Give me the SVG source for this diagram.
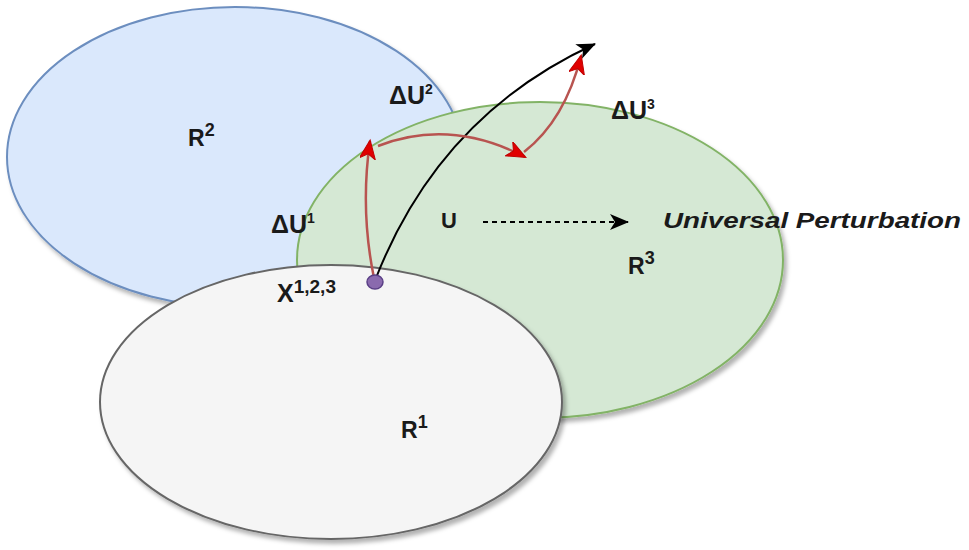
<svg xmlns="http://www.w3.org/2000/svg" width="969" height="550" viewBox="0 0 969 550">
<style>
  .lbl { font-family: "Liberation Sans", Arial, sans-serif; font-weight: bold; fill: #1a1a1a; }
  .red { fill: none; stroke: #b85450; stroke-width: 2.5; }
</style>
<defs>
  <filter id="sh" x="-10%" y="-10%" width="130%" height="130%">
    <feDropShadow dx="3" dy="4" stdDeviation="2" flood-color="#000" flood-opacity="0.3"/>
  </filter>
  <marker id="ar" markerUnits="userSpaceOnUse" markerWidth="24" markerHeight="20" refX="18" refY="8" orient="auto">
    <path d="M0,0 L19,8 L0,16 L5,8 z" fill="#e00000" stroke="#c00000" stroke-width="1"/>
  </marker>
  <marker id="ab" markerUnits="userSpaceOnUse" markerWidth="24" markerHeight="20" refX="18" refY="8" orient="auto">
    <path d="M0,0 L19,8 L0,16 L5,8 z" fill="#000"/>
  </marker>
</defs>
<rect width="969" height="550" fill="#fff"/>
<g id="R2">
  <ellipse cx="235" cy="157" rx="228" ry="150" fill="#dae8fc" stroke="#6c8ebf" stroke-width="2" filter="url(#sh)"/>
  <text class="lbl" x="188" y="146" font-size="23">R<tspan font-size="18" dy="-10">2</tspan></text>
</g>
<g id="R3">
  <ellipse cx="540" cy="260" rx="243" ry="158" fill="#d5e8d4" stroke="#82b366" stroke-width="2" filter="url(#sh)"/>
  <text class="lbl" x="628" y="274" font-size="23">R<tspan font-size="18" dy="-10">3</tspan></text>
</g>
<g id="R1">
  <ellipse cx="331" cy="402" rx="231" ry="137" fill="#f5f5f5" stroke="#666666" stroke-width="2" filter="url(#sh)"/>
  <text class="lbl" x="401" y="438" font-size="23">R<tspan font-size="18" dy="-10">1</tspan></text>
</g>
<g id="labels">
  <text class="lbl" x="389" y="104" font-size="25">ΔU<tspan font-size="14" dy="-10">2</tspan></text>
  <text class="lbl" x="611" y="119" font-size="25">ΔU<tspan font-size="14" dy="-10">3</tspan></text>
  <text class="lbl" x="271" y="233" font-size="25">ΔU<tspan font-size="14" dy="-10">1</tspan></text>
  <text class="lbl" x="277" y="302" font-size="25">X<tspan font-size="19" dy="-9">1,2,3</tspan></text>
  <text class="lbl" x="441" y="228" font-size="22">U</text>
  <text class="lbl" x="663" y="228" font-size="22" font-style="italic" textLength="298" lengthAdjust="spacingAndGlyphs">Universal Perturbation</text>
</g>
<g id="connectors">
  <path d="M376,278 Q440,115 595,44" fill="none" stroke="#000" stroke-width="2" marker-end="url(#ab)"/>
  <path class="red" d="M374,278 Q360,210 370,141" marker-end="url(#ar)"/>
  <path class="red" d="M378,146 Q450,118 525,157" marker-end="url(#ar)"/>
  <path class="red" d="M524,152 Q565,120 581,56" marker-end="url(#ar)"/>
  <path d="M483,222 L628,222" fill="none" stroke="#000" stroke-width="2" stroke-dasharray="5,4" marker-end="url(#ab)"/>
</g>
<g id="X">
  <ellipse cx="375" cy="282" rx="8" ry="7" fill="#8a6aae" stroke="#5a3f86" stroke-width="1.5"/>
</g>
</svg>
